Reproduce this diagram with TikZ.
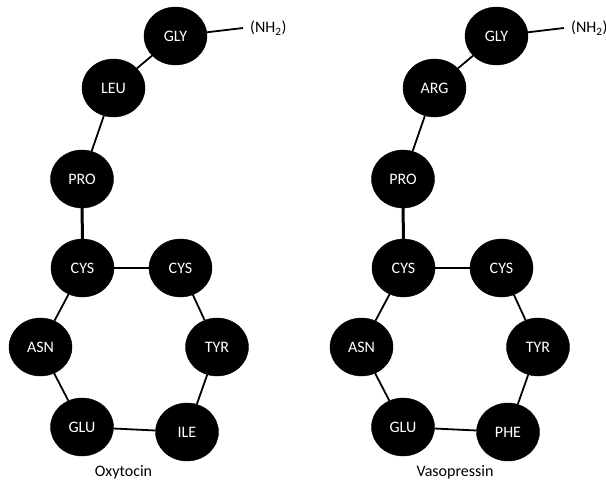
\documentclass[tikz,border=0pt]{standalone}
\usepackage{fontspec}
\setmainfont{Carlito}
\usetikzlibrary{shapes.geometric}
\tikzset{
  aa/.style={ellipse, fill=black, draw=black, minimum width=63pt, minimum height=58pt, inner sep=0pt, text=white, font=\fontsize{16}{18}\selectfont},
  lbl/.style={font=\fontsize{16}{18}\selectfont, inner sep=0pt},
  bond/.style={line width=1.8pt},
  thickbond/.style={line width=3pt}
}
\begin{document}
\begin{tikzpicture}[x=1pt,y=-1pt]
\useasboundingbox (0,0) rectangle (606,483);
% Oxytocin
\begin{scope}
\node[aa] (og) at (175.5,36) {GLY};
\node[aa] (ol) at (113.5,88) {LEU};
\node[aa] (op) at (82,179) {PRO};
\node[aa] (oc1) at (82.5,268) {CYS};
\node[aa] (oc2) at (180.5,268) {CYS};
\node[aa] (oa) at (40.5,347) {ASN};
\node[aa] (ot) at (217,347) {TYR};
\node[aa] (oe) at (82,427) {GLU};
\node[aa] (oi) at (187,432) {ILE};
\node[lbl, anchor=west] (onh) at (250,28) {(NH\textsubscript{2})};
\node[lbl] (oname) at (123.5,472) {Oxytocin};
\draw[bond] (og) -- ([xshift=-7pt]onh.west);
\draw[bond] (og) -- (ol);
\draw[bond] (ol) -- (op);
\draw[thickbond] (op) -- (oc1);
\draw[bond] (oc1) -- (oc2);
\draw[bond] (oc1) -- (oa);
\draw[bond] (oa) -- (oe);
\draw[bond] (oe) -- (oi);
\draw[bond] (oi) -- (ot);
\draw[bond] (ot) -- (oc2);
\end{scope}
% Vasopressin
\begin{scope}[xshift=321pt]
\node[aa] (vg) at (175.5,36) {GLY};
\node[aa] (vr) at (113.5,88) {ARG};
\node[aa] (vp) at (82,179) {PRO};
\node[aa] (vc1) at (82.5,268) {CYS};
\node[aa] (vc2) at (180.5,268) {CYS};
\node[aa] (va) at (40.5,347) {ASN};
\node[aa] (vt) at (217,347) {TYR};
\node[aa] (ve) at (82,427) {GLU};
\node[aa] (vf) at (187,432) {PHE};
\node[lbl, anchor=west] (vnh) at (250,28) {(NH\textsubscript{2})};
\node[lbl] (vname) at (134,472) {Vasopressin};
\draw[bond] (vg) -- ([xshift=-7pt]vnh.west);
\draw[bond] (vg) -- (vr);
\draw[bond] (vr) -- (vp);
\draw[thickbond] (vp) -- (vc1);
\draw[bond] (vc1) -- (vc2);
\draw[bond] (vc1) -- (va);
\draw[bond] (va) -- (ve);
\draw[bond] (ve) -- (vf);
\draw[bond] (vf) -- (vt);
\draw[bond] (vt) -- (vc2);
\end{scope}
\end{tikzpicture}
\end{document}
